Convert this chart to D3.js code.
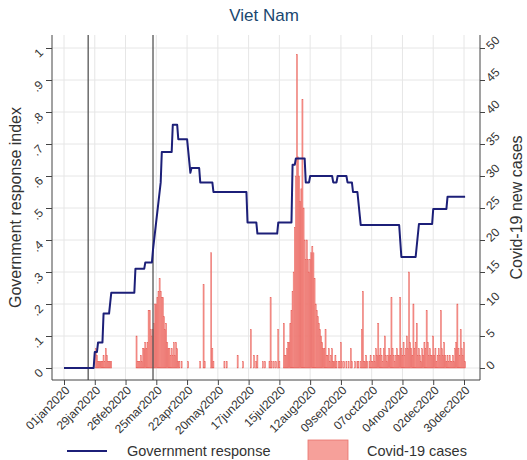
<!DOCTYPE html>
<html>
<head>
<meta charset="utf-8">
<script src="https://cdn.jsdelivr.net/npm/d3@7"></script>
<style>
  body { margin: 0; background: #fff; }
  text { font-family: "Liberation Sans", Arial, sans-serif; }
</style>
</head>
<body>
<script>
// government response index, vertices of the line
const govDates = ['2020-01-01','2020-01-28','2020-01-29','2020-01-31','2020-02-01','2020-02-05','2020-02-06',
  '2020-02-11','2020-02-13','2020-03-05','2020-03-06','2020-03-14','2020-03-15','2020-03-21','2020-03-22',
  '2020-03-24','2020-03-27','2020-03-29','2020-03-30','2020-04-08','2020-04-09','2020-04-13','2020-04-14',
  '2020-04-22','2020-04-25','2020-04-26','2020-05-03','2020-05-04','2020-05-15','2020-05-16','2020-06-15',
  '2020-06-16','2020-06-24','2020-06-25','2020-07-13','2020-07-14','2020-07-26','2020-07-27','2020-07-29',
  '2020-07-30','2020-08-07','2020-08-08','2020-08-11','2020-08-12','2020-09-01','2020-09-02','2020-09-05',
  '2020-09-06','2020-09-14','2020-09-15','2020-09-19','2020-09-20','2020-09-24','2020-09-27','2020-11-01',
  '2020-11-03','2020-11-16','2020-11-19','2020-12-01','2020-12-02','2020-12-14','2020-12-15','2020-12-31'];
const govValues = [0, 0, 0.05, 0.05, 0.08, 0.08, 0.17,
  0.17, 0.235, 0.235, 0.31, 0.31, 0.33, 0.33, 0.37,
  0.43, 0.52, 0.58, 0.675, 0.675, 0.76, 0.76, 0.715,
  0.715, 0.61, 0.625, 0.625, 0.58, 0.58, 0.55, 0.55,
  0.455, 0.455, 0.42, 0.42, 0.455, 0.455, 0.635, 0.635,
  0.655, 0.655, 0.58, 0.58, 0.60, 0.60, 0.58, 0.58,
  0.60, 0.60, 0.58, 0.58, 0.55, 0.55, 0.447, 0.447,
  0.347, 0.347, 0.45, 0.45, 0.497, 0.497, 0.535, 0.535];

// daily new cases, one entry per day of each month
const casesJan = [0,0,0,0,0,0,0,0,0,0, 0,0,0,0,0,0,0,0,0,0, 0,0,0,0,0,0,0,0,0,3, 2];
const casesFeb = [1,1,1,1,1,2,1,3,2,1, 1,1,1,0,0,0,0,0,0,0, 0,0,0,0,0,0,0,0,0];
const casesMar = [0,0,0,0,0,0,5,1,1,1, 2,1,3,3,4,3,4,9,9,6, 5,6,7,10,10,11,12,14,12,11, 11];
const casesApr = [8,6,7,4,3,3,2,3,2,4, 2,4,3,1,1,0,1,0,0,0, 0,0,1,0,0,0,0,0,0,0];
const casesMay = [0,0,0,1,0,0,13,1,0,0, 0,0,0,18,3,1,0,0,0,0, 0,0,0,0,0,1,0,1,0,0, 0];
const casesJun = [0,0,0,0,0,0,2,0,0,0, 0,1,0,0,0,0,0,0,6,0, 0,2,0,1,2,0,0,0,0,1];
const casesJul = [0,1,0,0,0,1,11,1,0,1, 0,1,0,6,1,0,0,0,7,2, 2,3,4,4,7,9,12,15,22,30, 49];
const casesAug = [33,30,26,28,42,25,20,17,20,17, 15,17,18,19,18,14,10,9,8,7, 6,5,4,3,3,6,2,2,3,1, 2];
const casesSep = [3,1,1,2,1,0,1,1,4,1, 0,1,0,1,0,1,0,3,1,0, 0,1,0,1,1,0,1,6,12,1];
const casesOct = [1,2,1,0,1,2,1,1,2,1, 3,2,7,2,3,2,1,3,5,2, 1,2,3,2,11,3,2,1,2,3, 2];
const casesNov = [2,11,3,2,4,2,3,5,3,15, 4,3,2,10,3,4,7,2,3,2, 1,3,2,4,3,9,4,2,3,2];
const casesDec = [2,5,2,3,1,2,3,2,9,3, 2,4,2,1,2,1,2,1,1,2, 1,3,4,10,3,2,6,3,2,4, 1];

const xTickDates = ['2020-01-01','2020-01-29','2020-02-26','2020-03-25','2020-04-22','2020-05-20','2020-06-17',
  '2020-07-15','2020-08-12','2020-09-09','2020-10-07','2020-11-04','2020-12-02','2020-12-30'];
const leftTicks = [0, 0.1, 0.2, 0.3, 0.4, 0.5, 0.6, 0.7, 0.8, 0.9, 1];
const rightTicks = [0, 5, 10, 15, 20, 25, 30, 35, 40, 45, 50];
const refDates = ['2020-01-23', '2020-03-22'];

const width = 527;
const height = 460;
const plot = { left: 52, right: 480, top: 35, bottom: 380 };
const parse = d3.utcParse('%Y-%m-%d');
const fmtDate = d3.utcFormat('%d%b%Y');

const svg = d3.select('body').append('svg')
  .attr('width', width)
  .attr('height', height);

const x = d3.scaleUtc()
  .domain([parse('2020-01-01'), parse('2020-12-30')])
  .range([64, 464]);
const yGov = d3.scaleLinear().domain([0, 1]).range([368, 48]);
const yCases = d3.scaleLinear().domain([0, 50]).range([368, 48]);

// grid
const grid = svg.append('g').attr('stroke', '#e6e6e6').attr('stroke-width', 1);
grid.selectAll('line.h').data(leftTicks).enter().append('line')
  .attr('x1', plot.left).attr('x2', plot.right)
  .attr('y1', d => yGov(d)).attr('y2', d => yGov(d));
grid.selectAll('line.v').data(xTickDates).enter().append('line')
  .attr('x1', d => x(parse(d))).attr('x2', d => x(parse(d)))
  .attr('y1', plot.top).attr('y2', plot.bottom);

// case bars
const allCases = [casesJan, casesFeb, casesMar, casesApr, casesMay, casesJun,
  casesJul, casesAug, casesSep, casesOct, casesNov, casesDec];
const caseRows = [];
allCases.forEach((month, m) => {
  month.forEach((v, i) => {
    if (v > 0) caseRows.push({ date: new Date(Date.UTC(2020, m, i + 1)), v: v });
  });
});
const dayW = x(parse('2020-01-02')) - x(parse('2020-01-01'));
svg.append('g').selectAll('rect').data(caseRows).enter().append('rect')
  .attr('x', d => x(d.date) - dayW / 2)
  .attr('width', dayW)
  .attr('y', d => yCases(d.v))
  .attr('height', d => yCases(0) - yCases(d.v))
  .attr('fill', '#f79a94')
  .attr('stroke', '#e65a54')
  .attr('stroke-width', 0.4);

// reference lines
svg.append('g').selectAll('line').data(refDates).enter().append('line')
  .attr('x1', d => x(parse(d))).attr('x2', d => x(parse(d)))
  .attr('y1', plot.top).attr('y2', plot.bottom)
  .attr('stroke', '#555').attr('stroke-width', 1.3);

// government response line
const govRows = govDates.map((d, i) => ({ date: parse(d), v: govValues[i] }));
svg.append('path')
  .datum(govRows)
  .attr('fill', 'none')
  .attr('stroke', '#1c1f78')
  .attr('stroke-width', 2)
  .attr('stroke-linejoin', 'round')
  .attr('d', d3.line().x(d => x(d.date)).y(d => yGov(d.v)));

// axes
const axisColor = '#444';
const xAxis = svg.append('g')
  .attr('transform', `translate(0,${plot.bottom})`)
  .call(d3.axisBottom(x).tickValues(xTickDates.map(parse)).tickSize(5)
    .tickFormat(d => fmtDate(d).toLowerCase()));
xAxis.selectAll('text')
  .attr('transform', 'translate(3,8) rotate(-45)')
  .attr('text-anchor', 'end')
  .attr('dy', '0.35em')
  .attr('y', 0)
  .attr('font-size', 12);

const leftAxis = svg.append('g')
  .attr('transform', `translate(${plot.left},0)`)
  .call(d3.axisLeft(yGov).tickValues(leftTicks).tickSize(6)
    .tickFormat(d => d === 0 ? '0' : d === 1 ? '1' : d3.format('.1f')(d).replace(/^0/, '')));
leftAxis.selectAll('text')
  .attr('x', 0)
  .attr('dy', '0.35em')
  .attr('transform', 'translate(-11,2) rotate(-45)')
  .attr('text-anchor', 'end')
  .attr('font-size', 12);

const rightAxis = svg.append('g')
  .attr('transform', `translate(${plot.right},0)`)
  .call(d3.axisRight(yCases).tickValues(rightTicks).tickSize(5));
rightAxis.selectAll('text')
  .attr('x', 0)
  .attr('dy', '0.35em')
  .attr('transform', 'translate(8,-1) rotate(-45)')
  .attr('text-anchor', 'start')
  .attr('font-size', 12);

[xAxis, leftAxis, rightAxis].forEach(a => {
  a.select('.domain').remove();
  a.selectAll('line').attr('stroke', axisColor);
  a.selectAll('text').attr('fill', '#333').attr('font-family', '"Liberation Sans", Arial, sans-serif');
});

svg.append('line').attr('x1', plot.left).attr('x2', plot.left)
  .attr('y1', plot.top).attr('y2', plot.bottom).attr('stroke', axisColor);
svg.append('line').attr('x1', plot.right).attr('x2', plot.right)
  .attr('y1', plot.top).attr('y2', plot.bottom).attr('stroke', axisColor);
svg.append('line').attr('x1', plot.left).attr('x2', plot.right)
  .attr('y1', plot.bottom).attr('y2', plot.bottom).attr('stroke', axisColor);

// titles
svg.append('text')
  .attr('x', 264).attr('y', 21)
  .attr('text-anchor', 'middle')
  .attr('font-size', 17)
  .attr('fill', '#1a476f')
  .text('Viet Nam');

svg.append('text')
  .attr('transform', `translate(21,${(plot.top + plot.bottom) / 2}) rotate(-90)`)
  .attr('text-anchor', 'middle')
  .attr('font-size', 16)
  .attr('fill', '#333')
  .text('Government response index');

svg.append('text')
  .attr('transform', `translate(522,${(plot.top + plot.bottom) / 2}) rotate(-90)`)
  .attr('text-anchor', 'middle')
  .attr('font-size', 16)
  .attr('fill', '#333')
  .text('Covid-19 new cases');

// legend
const legend = svg.append('g');
legend.append('line')
  .attr('x1', 67).attr('x2', 107).attr('y1', 451).attr('y2', 451)
  .attr('stroke', '#1c1f78').attr('stroke-width', 2);
legend.append('text')
  .attr('x', 127).attr('y', 456)
  .attr('font-size', 14.5).attr('fill', '#333')
  .text('Government response');
legend.append('rect')
  .attr('x', 308).attr('y', 440).attr('width', 40).attr('height', 22)
  .attr('fill', '#f6a09a').attr('stroke', '#e8726c').attr('stroke-width', 0.8);
legend.append('text')
  .attr('x', 367).attr('y', 456)
  .attr('font-size', 14.5).attr('fill', '#333')
  .text('Covid-19 cases');
</script>
</body>
</html>
